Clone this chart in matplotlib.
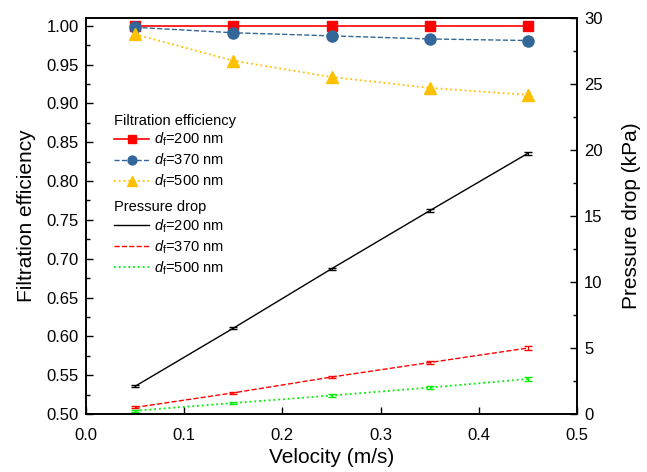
import numpy as np
import matplotlib
matplotlib.use("Agg")
import matplotlib.pyplot as plt

plt.rcParams['font.family'] = ['Liberation Sans', 'DejaVu Sans']
plt.rcParams['mathtext.fontset'] = 'custom'
plt.rcParams['mathtext.rm'] = 'Liberation Sans'
plt.rcParams['mathtext.it'] = 'Liberation Sans:italic'

# dados
velocity = [0.05, 0.15, 0.25, 0.35, 0.45]
fe_200 = [1.0, 1.0, 1.0, 1.0, 1.0]
fe_370 = [0.998, 0.991, 0.987, 0.983, 0.981]
fe_500 = [0.989, 0.955, 0.934, 0.920, 0.911]
dp_200 = [2.1, 6.5, 11.0, 15.4, 19.75]
dp_370 = [0.5, 1.6, 2.8, 3.9, 5.0]
dp_500 = [0.25, 0.83, 1.4, 2.0, 2.65]
dp_err = [0.08, 0.08, 0.08, 0.1, 0.12]
labels = [r'$d_\mathrm{f}$=200 nm', r'$d_\mathrm{f}$=370 nm', r'$d_\mathrm{f}$=500 nm']

fig = plt.figure(figsize=(6.47, 4.72), dpi=100)
ax = fig.add_axes([86/647, 1 - 414/472, 491/647, 396/472])
ax2 = ax.twinx()

h1, = ax.plot(velocity, fe_200, '-', color='#ff0000', marker='s', ms=7, lw=1.2)
h2, = ax.plot(velocity, fe_370, '--', color='#336699', marker='o', ms=8, lw=1.0)
h3, = ax.plot(velocity, fe_500, ':', color='#ffc000', marker='^', ms=8.5, lw=1.3)

p1 = ax2.errorbar(velocity, dp_200, yerr=dp_err, fmt='-', color='black', lw=1.0,
                  capsize=3, elinewidth=0.8)
p2 = ax2.errorbar(velocity, dp_370, yerr=dp_err, fmt='--', color='#ff0000', lw=1.0,
                  capsize=3, elinewidth=0.8)
p3 = ax2.errorbar(velocity, dp_500, yerr=dp_err, fmt=':', color='#00ee00', lw=1.3,
                  capsize=3, elinewidth=0.8)

ax.set_xlim(0, 0.5)
ax.set_ylim(0.5, 1.01)
ax2.set_ylim(0, 30)
ax.set_xticks(np.arange(0, 0.51, 0.1))
ax.set_yticks(np.arange(0.5, 1.001, 0.05))
ax.set_yticks(np.arange(0.525, 1.0, 0.05), minor=True)
ax2.set_yticks(np.arange(0, 31, 5))
ax2.set_yticks(np.arange(2.5, 30, 5), minor=True)
ax.set_xticklabels([f'{v:.1f}' for v in np.arange(0, 0.51, 0.1)])
ax.set_yticklabels([f'{v:.2f}' for v in np.arange(0.5, 1.001, 0.05)])

ax.tick_params(direction='in', labelsize=12, length=5, width=1, pad=5)
ax.tick_params(axis='x', pad=10)
ax.tick_params(which='minor', direction='in', length=3, width=1)
ax2.tick_params(direction='in', labelsize=12, length=5, width=1, pad=5)
ax2.tick_params(which='minor', direction='in', length=3, width=1)
for a in (ax, ax2):
    for s in a.spines.values():
        s.set_linewidth(1.2)

ax.set_xlabel('Velocity (m/s)', fontsize=15, labelpad=4)
ax.set_ylabel('Filtration efficiency', fontsize=15, labelpad=8)
ax2.set_ylabel('Pressure drop (kPa)', fontsize=15, labelpad=14)

leg1 = ax2.legend([h1, h2, h3], labels, title='Filtration efficiency',
                  loc='upper left', bbox_to_anchor=(0.043, 0.776), frameon=False,
                  fontsize=10.5, title_fontsize=10.5, handlelength=2.4,
                  handletextpad=0.3, labelspacing=0.25, borderpad=0,
                  markerscale=0.8, alignment='left')
leg1._legend_box.sep = 2
ax2.add_artist(leg1)
leg2 = ax2.legend([p1[0], p2[0], p3[0]], labels, title='Pressure drop',
                  loc='upper left', bbox_to_anchor=(0.043, 0.558), frameon=False,
                  fontsize=10.5, title_fontsize=10.5, handlelength=2.4,
                  handletextpad=0.3, labelspacing=0.25, borderpad=0,
                  alignment='left')
leg2._legend_box.sep = 2

fig.savefig('out.png', dpi=100)
